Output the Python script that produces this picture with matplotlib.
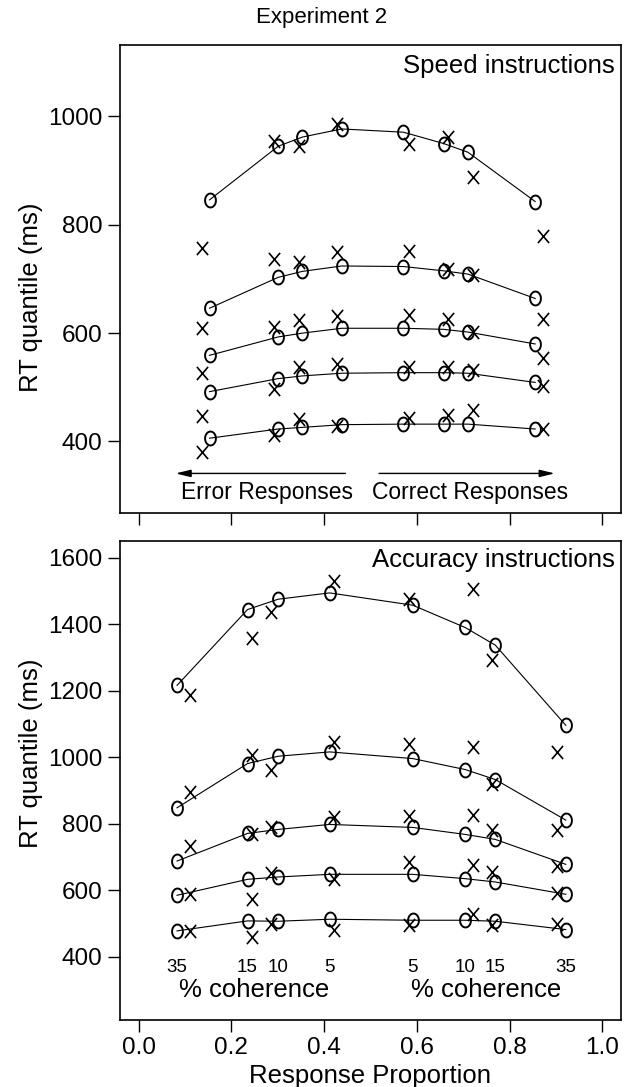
import numpy as np
import matplotlib
matplotlib.use("Agg")
import matplotlib.pyplot as plt
from matplotlib.path import Path

plt.rcParams['font.family'] = ['Liberation Sans', 'DejaVu Sans']

# response proportions (error side, then correct side)
x_speed_pred = [0.153, 0.301, 0.353, 0.438, 0.571, 0.658, 0.710, 0.855]
x_speed_obs = [0.136, 0.291, 0.345, 0.428, 0.584, 0.668, 0.720, 0.871]
x_acc_pred = [0.083, 0.235, 0.301, 0.412, 0.591, 0.704, 0.769, 0.921]
x_acc_obs = [0.111, 0.244, 0.285, 0.421, 0.584, 0.720, 0.761, 0.902]

# speed instructions: model (o) and data (x), quantiles .1 .3 .5 .7 .9
speed_pred_10 = [406, 423, 426, 431, 432, 432, 432, 423]
speed_pred_30 = [492, 516, 521, 526, 527, 527, 526, 509]
speed_pred_50 = [559, 593, 600, 609, 609, 607, 602, 580]
speed_pred_70 = [646, 703, 714, 724, 723, 715, 709, 664]
speed_pred_90 = [846, 945, 962, 977, 971, 950, 934, 843]
speed_obs_10 = [380, 412, 441, 429, 444, 449, 458, 423]
speed_obs_30 = [447, 497, 538, 543, 537, 537, 532, 503]
speed_obs_50 = [526, 611, 625, 631, 633, 626, 602, 555]
speed_obs_70 = [609, 737, 732, 749, 752, 718, 707, 626]
speed_obs_90 = [758, 955, 946, 986, 950, 963, 889, 780]

# accuracy instructions
acc_pred_10 = [478, 508, 507, 513, 510, 510, 507, 482]
acc_pred_30 = [585, 633, 640, 648, 648, 635, 625, 588]
acc_pred_50 = [688, 771, 783, 798, 789, 768, 753, 678]
acc_pred_70 = [848, 981, 1003, 1016, 996, 963, 933, 811]
acc_pred_90 = [1216, 1444, 1475, 1494, 1457, 1390, 1337, 1096]
acc_obs_10 = [478, 460, 498, 480, 495, 528, 495, 498]
acc_obs_30 = [590, 575, 652, 635, 685, 675, 655, 592]
acc_obs_50 = [733, 769, 789, 821, 823, 826, 781, 672]
acc_obs_70 = [896, 1006, 961, 1046, 1041, 1031, 921, 781]
acc_obs_90 = [1186, 1357, 1437, 1529, 1475, 1505, 1291, 1016]

coherence = ["35", "15", "10", "5", "5", "10", "15", "35"]

# letter-like markers: tall "O" and "X"
t = np.linspace(0, 2 * np.pi, 60)
o_mark = Path(np.column_stack([0.78 * np.cos(t), np.sin(t)]))
x_mark = Path([(-0.85, -1), (0.85, 1), (-0.85, 1), (0.85, -1)],
              [Path.MOVETO, Path.LINETO, Path.MOVETO, Path.LINETO])

fig = plt.figure(figsize=(6.43, 10.87), dpi=100)
ax1 = fig.add_axes([0.1866, 0.5281, 0.7792, 0.4305])
ax2 = fig.add_axes([0.1866, 0.0616, 0.7792, 0.4407])

def draw(ax, xp, xo, preds, obs):
    for p, o in zip(preds, obs):
        ax.plot(xp, p, color='black', lw=0.8, marker=o_mark, ms=10,
                mfc='none', mec='black', mew=1.4)
        ax.plot(xo, o, ls='none', marker=x_mark, ms=9.5, color='black', mew=1.2)

draw(ax1, x_speed_pred, x_speed_obs,
     [speed_pred_10, speed_pred_30, speed_pred_50, speed_pred_70, speed_pred_90],
     [speed_obs_10, speed_obs_30, speed_obs_50, speed_obs_70, speed_obs_90])
draw(ax2, x_acc_pred, x_acc_obs,
     [acc_pred_10, acc_pred_30, acc_pred_50, acc_pred_70, acc_pred_90],
     [acc_obs_10, acc_obs_30, acc_obs_50, acc_obs_70, acc_obs_90])

for ax in (ax1, ax2):
    ax.set_xlim(-0.04, 1.04)
    ax.set_xticks([0.0, 0.2, 0.4, 0.6, 0.8, 1.0])
    ax.tick_params(direction='out', length=8.5, width=1, labelsize=17.5, pad=4)
    for s in ax.spines.values():
        s.set_linewidth(1.2)
    ax.set_ylabel("RT quantile (ms)", fontsize=18.5)

ax1.set_ylim(268, 1132)
ax1.set_yticks([400, 600, 800, 1000])
ax1.set_xticklabels([])
ax1.yaxis.set_label_coords(-0.154, 0.46)
ax1.text(0.988, 0.94, "Speed instructions", transform=ax1.transAxes,
         ha='right', va='baseline', fontsize=18.5)

ax1.annotate("", xy=(0.074, 341), xytext=(0.452, 341),
             arrowprops=dict(arrowstyle='-|>,head_length=0.9,head_width=0.22',
                             color='black', lw=1))
ax1.annotate("", xy=(0.903, 341), xytext=(0.5125, 341),
             arrowprops=dict(arrowstyle='-|>,head_length=0.9,head_width=0.22',
                             color='black', lw=1))
ax1.text(0.276, 306, "Error Responses", ha='center', va='center', fontsize=16.5)
ax1.text(0.715, 306, "Correct Responses", ha='center', va='center', fontsize=16.5)

ax2.set_ylim(210, 1650)
ax2.set_yticks(np.arange(400, 1601, 200))
ax2.set_xticklabels(["0.0", "0.2", "0.4", "0.6", "0.8", "1.0"])
ax2.set_xlabel("Response Proportion", fontsize=18.5, labelpad=3)
ax2.yaxis.set_label_coords(-0.154, 0.557)
ax2.text(0.988, 0.946, "Accuracy instructions", transform=ax2.transAxes,
         ha='right', va='baseline', fontsize=18.5)
for xx, lab in zip(x_acc_pred, coherence):
    ax2.text(xx, 368, lab, ha='center', va='center', fontsize=13.5)
ax2.text(0.25, 300, "% coherence", ha='center', va='center', fontsize=18.5)
ax2.text(0.75, 300, "% coherence", ha='center', va='center', fontsize=18.5)

fig.text(0.5, 1 - 18 / 1087, "Experiment 2", ha='center', va='center', fontsize=16)

fig.savefig("out.png", dpi=100)
